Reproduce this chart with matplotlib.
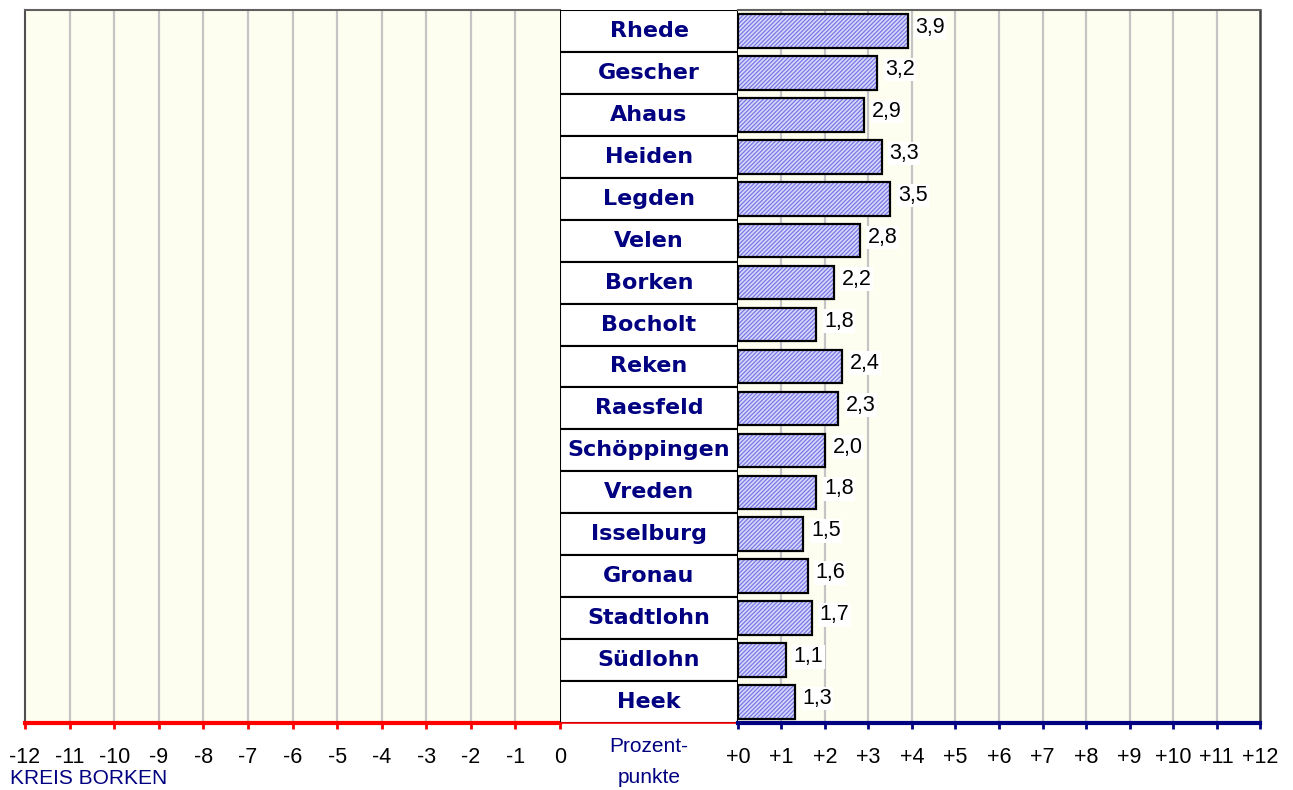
import matplotlib
matplotlib.use("Agg")
import matplotlib.pyplot as plt
import numpy as np

# data (Prozentpunkte, Kreis Borken)
gemeinden = ["Rhede", "Gescher", "Ahaus", "Heiden", "Legden", "Velen", "Borken",
             "Bocholt", "Reken", "Raesfeld", "Schöppingen", "Vreden", "Isselburg",
             "Gronau", "Stadtlohn", "Südlohn", "Heek"]
werte = [3.9, 3.2, 2.9, 3.3, 3.5, 2.8, 2.2, 1.8, 2.4, 2.3, 2.0, 1.8, 1.5,
         1.6, 1.7, 1.1, 1.3]
left_ticks = list(range(-12, 1))
right_ticks = list(range(0, 13))

NAVY = "#000080"
BG = "#fefef0"
GRID = "#c4c4c4"
plt.rcParams["font.family"] = ["Liberation Sans", "DejaVu Sans"]
plt.rcParams["hatch.linewidth"] = 0.9

W, H = 1293, 790
fig = plt.figure(figsize=(W / 100, H / 100), dpi=100)


def ax_at(x0, x1, y0=10, y1=723):
    return fig.add_axes([x0 / W, 1 - y1 / H, (x1 - x0) / W, (y1 - y0) / H])


y = np.arange(len(gemeinden))
ylim = (len(gemeinden) - 0.5, -0.5)

# left half: -12 .. 0 (empty)
axl = ax_at(25, 560)
axl.set_facecolor(BG)
axl.set_xlim(-12, 0)
axl.set_ylim(*ylim)
axl.set_xticks(left_ticks)
axl.set_xticklabels([str(t) for t in left_ticks])
axl.set_yticks([])
for t in left_ticks[1:-1]:
    axl.axvline(t, color=GRID, lw=1.6, zorder=0)
axl.spines["right"].set_visible(False)
axl.spines["left"].set_color("#505050")
axl.spines["left"].set_linewidth(1.5)
axl.spines["top"].set_color("#606060")
axl.spines["top"].set_linewidth(1.5)
axl.spines["bottom"].set_color("red")
axl.spines["bottom"].set_linewidth(3)
axl.tick_params(axis="x", colors="red", width=2, length=4, pad=13,
                labelcolor="black", labelsize=15.5)
fig.text(10 / W, 1 - 769 / H, "KREIS BORKEN", color=NAVY, fontsize=15,
         ha="left", va="top")

# middle column: names
axm = ax_at(560, 738)
axm.set_xlim(0, 1)
axm.set_ylim(*ylim)
axm.barh(y, [1] * len(y), height=1.0, left=0, color="white",
         edgecolor="black", linewidth=1.5)
for yi, name in zip(y, gemeinden):
    axm.text(0.5, yi, name, ha="center", va="center", color=NAVY,
             fontsize=16, fontweight="bold", family="DejaVu Sans")
axm.set_xticks([])
axm.set_yticks([])
for s in ["left", "right", "top"]:
    axm.spines[s].set_visible(False)
axm.spines["bottom"].set_color("red")
axm.spines["bottom"].set_linewidth(1.2)
axm.text(0.5, -0.02, "Prozent-\npunkte", transform=axm.transAxes,
         ha="center", va="top", color=NAVY, fontsize=15, linespacing=1.75)

# right half: +0 .. +12 with bars
axr = ax_at(738, 1260)
axr.set_facecolor(BG)
axr.set_xlim(0, 12)
axr.set_ylim(*ylim)
for t in right_ticks[1:-1]:
    axr.axvline(t, color=GRID, lw=1.6, zorder=0)
bars = axr.barh(y, werte, height=0.8, color="#d8d8fc", edgecolor="black",
                linewidth=1.6, hatch="////////", zorder=2)
for b in bars:
    b._hatch_color = matplotlib.colors.to_rgba("#7878e6")
for yi, v in zip(y, werte):
    axr.text(v + 0.18, yi - 0.08, f"{v:.1f}".replace(".", ","), va="center",
             ha="left", fontsize=15.5, color="black", zorder=3,
             bbox=dict(facecolor="white", edgecolor="none", pad=1.0))
axr.set_xticks(right_ticks)
axr.set_xticklabels([f"+{t}" for t in right_ticks])
axr.set_yticks([])
axr.spines["left"].set_visible(False)
axr.spines["right"].set_color("#404040")
axr.spines["right"].set_linewidth(1.8)
axr.spines["top"].set_color("#606060")
axr.spines["top"].set_linewidth(1.5)
axr.spines["bottom"].set_color(NAVY)
axr.spines["bottom"].set_linewidth(3)
axr.tick_params(axis="x", colors=NAVY, width=2, length=4, pad=13,
                labelcolor="black", labelsize=15.5)

fig.savefig("out.png", dpi=100, facecolor="white")
